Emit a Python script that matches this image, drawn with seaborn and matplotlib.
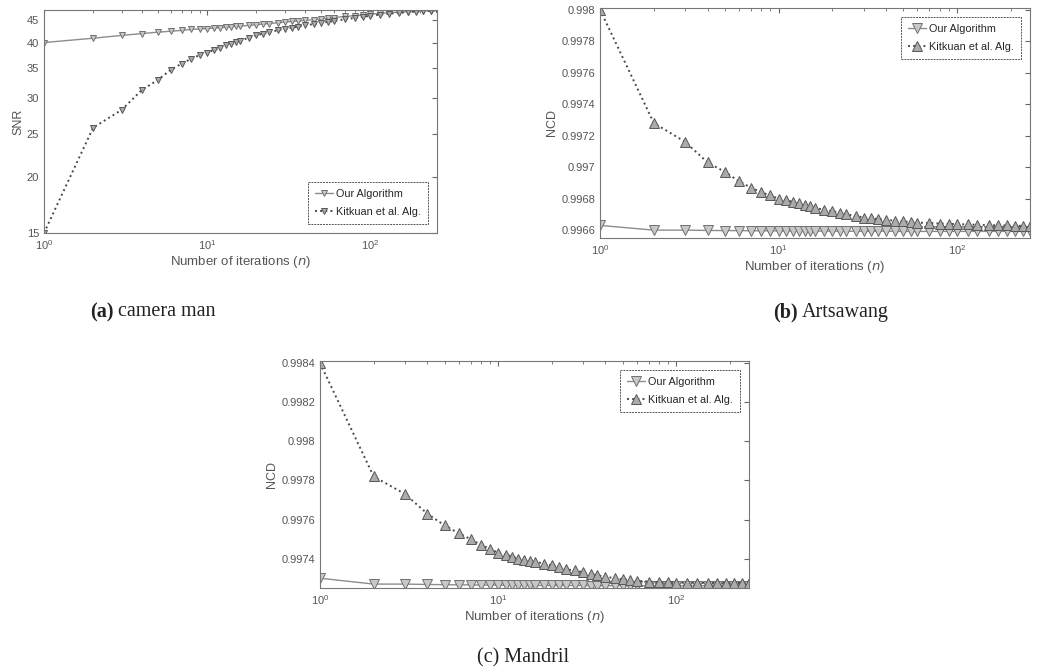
import numpy as np
import pandas as pd
import seaborn as sns
import matplotlib
matplotlib.use('Agg')
import matplotlib.pyplot as plt
from matplotlib.ticker import FixedLocator, FixedFormatter, NullLocator

# iteration counts where values were read
iters = [1, 2, 3, 4, 5, 6, 7, 8, 9, 10, 11, 12, 13, 14, 15, 16, 18, 20, 22, 24, 27, 30,
         33, 36, 40, 45, 50, 55, 60, 70, 80, 90, 100, 115, 130, 150, 170, 190, 210, 235, 256]

# (a) camera man - SNR
snr_ours = [40.0, 40.9, 41.5, 41.9, 42.2, 42.4, 42.6, 42.8, 42.9, 43.0, 43.1, 43.2, 43.3, 43.4,
            43.5, 43.55, 43.7, 43.85, 44.0, 44.1, 44.3, 44.45, 44.6, 44.7, 44.85, 45.0, 45.2,
            45.35, 45.5, 45.75, 45.95, 46.1, 46.3, 46.5, 46.65, 46.8, 46.9, 47.0, 47.1, 47.15, 47.2]
snr_kit = [15.0, 25.8, 28.3, 31.4, 33.0, 34.8, 35.9, 36.8, 37.5, 38.0, 38.5, 38.9, 39.4, 39.8,
           40.1, 40.4, 41.0, 41.5, 41.9, 42.2, 42.6, 42.9, 43.2, 43.4, 43.7, 44.0, 44.3, 44.5,
           44.7, 45.1, 45.4, 45.7, 45.9, 46.2, 46.4, 46.6, 46.8, 46.9, 47.0, 47.1, 47.2]

# (b) Artsawang - NCD
ncd_b_ours = [0.99663, 0.99660, 0.99660, 0.996598, 0.996597, 0.996597, 0.996596, 0.996596,
              0.996596, 0.996595, 0.996595, 0.996595, 0.996595, 0.996594, 0.996594, 0.996594,
              0.996594, 0.996594, 0.996593, 0.996593, 0.996593, 0.996593, 0.996593, 0.996593,
              0.996593, 0.996592, 0.996592, 0.996592, 0.996592, 0.996592, 0.996592, 0.996592,
              0.996592, 0.996592, 0.996592, 0.996592, 0.996592, 0.996592, 0.996592, 0.996592, 0.996592]
ncd_b_kit = [0.99800, 0.99728, 0.99716, 0.99703, 0.99697, 0.99691, 0.99687, 0.99684, 0.99682,
             0.99680, 0.99679, 0.99678, 0.99677, 0.99676, 0.99675, 0.99674, 0.99673, 0.99672,
             0.99671, 0.99670, 0.99669, 0.99668, 0.996675, 0.99667, 0.996665, 0.99666, 0.996655,
             0.99665, 0.996648, 0.996645, 0.996642, 0.99664, 0.996638, 0.996636, 0.996634,
             0.996632, 0.99663, 0.99663, 0.996628, 0.996627, 0.996626]

# (c) Mandril - NCD
ncd_c_ours = [0.99730, 0.99727, 0.99727, 0.997268, 0.997267, 0.997266, 0.997266, 0.997265,
              0.997265, 0.997265, 0.997264, 0.997264, 0.997264, 0.997264, 0.997264, 0.997263,
              0.997263, 0.997263, 0.997263, 0.997263, 0.997263, 0.997263, 0.997262, 0.997262,
              0.997262, 0.997262, 0.997262, 0.997262, 0.997262, 0.997262, 0.997262, 0.997262,
              0.997262, 0.997262, 0.997262, 0.997262, 0.997262, 0.997262, 0.997262, 0.997262, 0.997262]
ncd_c_kit = [0.99840, 0.99782, 0.99773, 0.99763, 0.99757, 0.99753, 0.99750, 0.99747, 0.99745,
             0.99743, 0.99742, 0.99741, 0.99740, 0.997395, 0.99739, 0.997385, 0.997375, 0.997365,
             0.997355, 0.997345, 0.99734, 0.99733, 0.997322, 0.997315, 0.997308, 0.99730,
             0.997295, 0.99729, 0.997287, 0.997283, 0.99728, 0.99728, 0.997278, 0.997277,
             0.997277, 0.997276, 0.997276, 0.997276, 0.997276, 0.997276, 0.997276]

sns.set_style('white')
plt.rcParams['font.family'] = ['Liberation Sans', 'DejaVu Sans']

fig = plt.figure(figsize=(10.38, 6.72), dpi=100)
W, H = 1038, 672


def make_ax(l, t, r, b):
    return fig.add_axes([l / W, 1 - b / H, (r - l) / W, (b - t) / H])


def panel(ax, ours, kit, kit_marker, ms, ylabel, yticks, ylim, loc, logy=False):
    sns.lineplot(x=iters, y=ours, ax=ax, color='#8c8c8c', linewidth=1.0, marker='v',
                 markersize=ms, markerfacecolor='#c8c8c8', markeredgecolor='#707070',
                 markeredgewidth=0.7, label='Our Algorithm')
    sns.lineplot(x=iters, y=kit, ax=ax, color='#4a4a4a', linewidth=1.4, linestyle=':',
                 marker=kit_marker, markersize=ms, markerfacecolor='#ababab',
                 markeredgecolor='#575757', markeredgewidth=0.7, label='Kitkuan et al. Alg.')
    ax.set_xscale('log')
    ax.set_xlim(1, 256)
    if logy:
        ax.set_yscale('log')
    ax.set_ylim(*ylim)
    ax.yaxis.set_major_locator(FixedLocator(yticks))
    ax.yaxis.set_major_formatter(FixedFormatter([f'{v:g}' for v in yticks]))
    ax.yaxis.set_minor_locator(NullLocator())
    ax.set_xticks([1, 10, 100])
    ax.tick_params(axis='both', which='both', direction='in', top=True, right=True,
                   labelsize=8, labelcolor='#555555', color='#666666')
    ax.tick_params(which='major', length=3.5)
    ax.tick_params(which='minor', length=2)
    for s in ax.spines.values():
        s.set_color('#777777')
        s.set_linewidth(0.8)
    ax.set_xlabel('Number of iterations ($n$)', fontsize=9.5, color='#555555', labelpad=2)
    ax.set_ylabel(ylabel, fontsize=9, color='#555555', labelpad=2)
    leg = ax.legend(loc=loc, fontsize=7.8, fancybox=False, framealpha=1, handlelength=1.6,
                    handletextpad=0.3, borderpad=0.7, labelspacing=0.7, borderaxespad=0.8)
    leg.get_frame().set_edgecolor('#555555')
    leg.get_frame().set_linestyle((0, (2, 1)))
    leg.get_frame().set_linewidth(0.7)


ax_a = make_ax(44, 10, 437, 233)
panel(ax_a, snr_ours, snr_kit, 'v', 4.5, 'SNR', [15, 20, 25, 30, 35, 40, 45], (15, 47.3),
      'lower right', logy=True)

ax_b = make_ax(600, 8, 1030, 238)
panel(ax_b, ncd_b_ours, ncd_b_kit, '^', 7, 'NCD',
      [0.9966, 0.9968, 0.997, 0.9972, 0.9974, 0.9976, 0.9978, 0.998], (0.99655, 0.99801),
      'upper right')

ax_c = make_ax(320, 361, 749, 588)
panel(ax_c, ncd_c_ours, ncd_c_kit, '^', 7, 'NCD',
      [0.9974, 0.9976, 0.9978, 0.998, 0.9982, 0.9984], (0.99725, 0.99841),
      'upper right')

# captions
cap = dict(fontsize=14.5, family=['Liberation Serif', 'DejaVu Serif'], va='center', color='#222222')
fig.text(114 / W, 1 - 312 / H, '(a)', ha='right', weight='bold', **cap)
fig.text(118 / W, 1 - 312 / H, 'camera man', ha='left', **cap)
fig.text(798 / W, 1 - 312 / H, '(b)', ha='right', weight='bold', **cap)
fig.text(802 / W, 1 - 312 / H, 'Artsawang', ha='left', **cap)
fig.text(523 / W, 1 - 658 / H, '(c) Mandril', ha='center', **cap)

fig.savefig('out.png', dpi=100)
